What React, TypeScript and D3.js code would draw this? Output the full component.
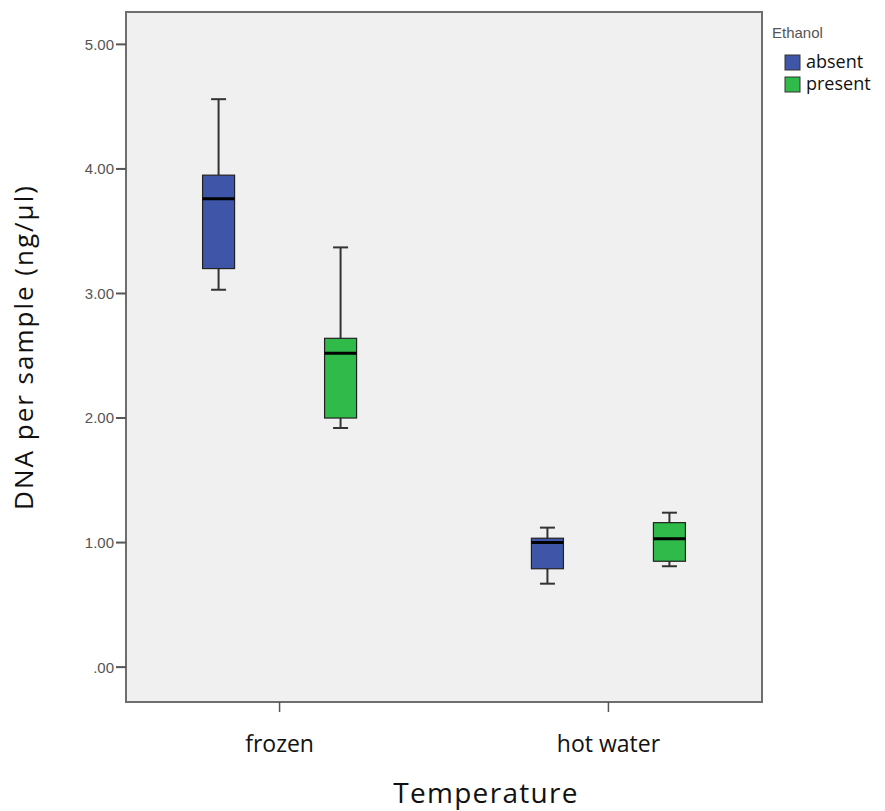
import React from "react";
import * as d3 from "d3";

const categories = ["frozen", "hot water"];
const series = ["absent", "present"];
const seriesColors = ["#3f56a8", "#2fba4a"];
// [whiskerLow, q1, median, q3, whiskerHigh] per category per series
const absentStats = [
  [3.03, 3.2, 3.76, 3.95, 4.56],
  [0.67, 0.79, 1.0, 1.035, 1.12],
];
const presentStats = [
  [1.92, 2.0, 2.52, 2.64, 3.37],
  [0.81, 0.85, 1.03, 1.16, 1.24],
];
const yTicks = [0, 1, 2, 3, 4, 5];
const yTickLabels = [".00", "1.00", "2.00", "3.00", "4.00", "5.00"];

export default function App() {
  const W = 885, H = 811;
  const left = 126, right = 762, top = 12, bottom = 702;
  const y = d3.scaleLinear().domain([-0.28, 5.26]).range([bottom, top]);
  const x = d3.scalePoint<string>().domain(categories).range([left, right]).padding(0.467);
  const boxW = 32;
  const capW = 15;
  const allStats = [absentStats, presentStats];

  return (
    <svg width={W} height={H} style={{ position: "absolute", left: 0, top: 0, background: "#fff" }}>
      <rect x={left} y={top} width={right - left} height={bottom - top} fill="#f0f0f0" stroke="none" />
      {categories.map((c, ci) =>
        series.map((s, si) => {
          const st = allStats[si][ci];
          const cx = (x(c) as number) + (si === 0 ? -61 : 61);
          const [lo, q1, med, q3, hi] = st;
          return (
            <g key={c + s}>
              <line x1={cx} x2={cx} y1={y(hi)} y2={y(q3)} stroke="#333" strokeWidth={2} />
              <line x1={cx} x2={cx} y1={y(q1)} y2={y(lo)} stroke="#333" strokeWidth={2} />
              <line x1={cx - capW / 2} x2={cx + capW / 2} y1={y(hi)} y2={y(hi)} stroke="#333" strokeWidth={2} />
              <line x1={cx - capW / 2} x2={cx + capW / 2} y1={y(lo)} y2={y(lo)} stroke="#333" strokeWidth={2} />
              <rect x={cx - boxW / 2} y={y(q3)} width={boxW} height={y(q1) - y(q3)} fill={seriesColors[si]} stroke="#222" strokeWidth={1.2} />
              <line x1={cx - boxW / 2} x2={cx + boxW / 2} y1={y(med)} y2={y(med)} stroke="#000" strokeWidth={3} />
            </g>
          );
        })
      )}
      <rect x={left} y={top} width={right - left} height={bottom - top} fill="none" stroke="#6e6e6e" strokeWidth={2} />
      {yTicks.map((t, i) => (
        <g key={t}>
          <line x1={left - 10} x2={left} y1={y(t)} y2={y(t)} stroke="#555" strokeWidth={2} />
          <text x={left - 12} y={y(t)} dy="0.36em" textAnchor="end" fontFamily="Liberation Sans, Arial, sans-serif" fontSize={15} fill="#555">
            {yTickLabels[i]}
          </text>
        </g>
      ))}
      {categories.map((c) => (
        <g key={c}>
          <line x1={x(c)} x2={x(c)} y1={bottom} y2={bottom + 10} stroke="#555" strokeWidth={1.5} />
          <text x={x(c)} y={752} textAnchor="middle" fontFamily="Open Sans, sans-serif" fontSize={23} fill="#111">
            {c}
          </text>
        </g>
      ))}
      <text x={486} y={803} textAnchor="middle" fontFamily="Open Sans, sans-serif" fontSize={28} letterSpacing={1.3} fill="#111">
        Temperature
      </text>
      <text transform={`translate(33, 347) rotate(-90)`} textAnchor="middle" fontFamily="Open Sans, sans-serif" fontSize={26} letterSpacing={2} fill="#111">
        DNA per sample (ng/µl)
      </text>
      <text x={772} y={38} fontFamily="Liberation Sans, Arial, sans-serif" fontSize={15} fill="#555">
        Ethanol
      </text>
      {series.map((s, i) => (
        <g key={s}>
          <rect x={785} y={55 + i * 22} width={15} height={15} fill={seriesColors[i]} stroke="#333" strokeWidth={1} />
          <text x={806} y={68 + i * 22} fontFamily="Open Sans, sans-serif" fontSize={18} fill="#111">
            {s}
          </text>
        </g>
      ))}
    </svg>
  );
}
